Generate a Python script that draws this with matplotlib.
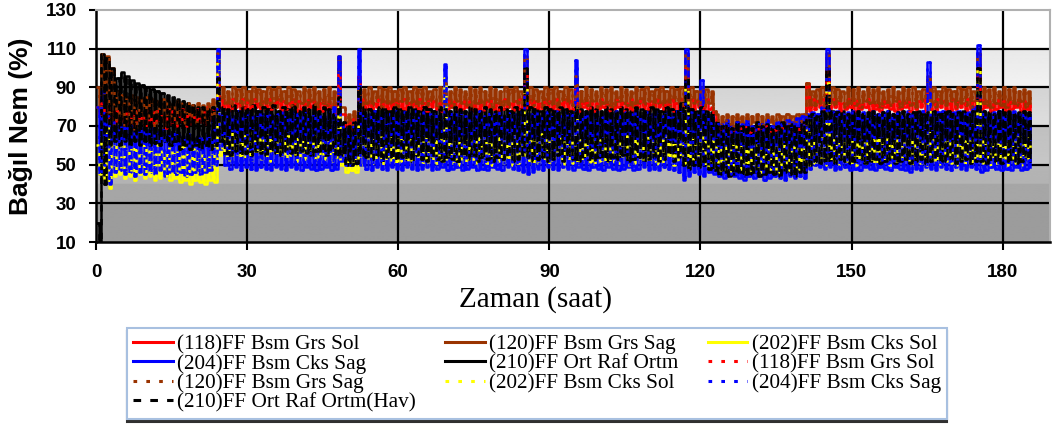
import numpy as np
import matplotlib
matplotlib.use("Agg")
import matplotlib.pyplot as plt

# hourly upper (hi) and lower (lo) readings of each sensor, hour 0..185
red_hi = [80, 82, 80, 78, 78, 76, 79, 77, 78, 76,
          79, 77, 78, 76, 79, 78, 77, 79, 78, 77,
          79, 78, 80, 79, 96, 84, 83, 84, 82, 84,
          83, 84, 82, 83, 84, 82, 84, 83, 82, 84,
          83, 82, 84, 83, 82, 84, 83, 82, 98, 76,
          72, 74, 96, 84, 83, 82, 84, 83, 82, 84,
          83, 84, 82, 83, 84, 82, 84, 83, 82, 88,
          84, 83, 82, 84, 83, 82, 84, 83, 84, 82,
          83, 84, 82, 83, 84, 98, 84, 83, 82, 84,
          83, 84, 82, 84, 83, 90, 82, 84, 83, 82,
          84, 83, 82, 84, 83, 82, 84, 83, 84, 82,
          83, 84, 82, 83, 84, 82, 84, 100, 84, 83,
          82, 84, 80, 70, 69, 70, 69, 70, 69, 70,
          69, 70, 69, 70, 69, 70, 69, 70, 69, 70,
          70, 92, 84, 83, 84, 100, 84, 83, 82, 84,
          83, 84, 82, 84, 83, 82, 84, 83, 82, 84,
          83, 84, 82, 83, 84, 90, 82, 84, 83, 82,
          84, 83, 82, 84, 83, 100, 84, 83, 82, 84,
          83, 84, 82, 84, 83, 82]
red_lo = [76, 75, 72, 70, 72, 70, 71, 69, 72, 70,
          71, 70, 72, 69, 71, 70, 72, 70, 71, 72,
          72, 71, 73, 72, 80, 79, 78, 80, 78, 79,
          78, 80, 79, 78, 79, 80, 78, 79, 80, 78,
          79, 78, 80, 79, 78, 79, 80, 76, 76, 70,
          68, 70, 78, 79, 78, 80, 79, 78, 79, 80,
          78, 79, 80, 78, 79, 78, 80, 79, 78, 79,
          80, 78, 79, 80, 78, 79, 78, 80, 79, 78,
          79, 80, 78, 79, 78, 79, 80, 78, 79, 80,
          78, 79, 80, 78, 79, 78, 80, 79, 78, 79,
          80, 78, 79, 80, 78, 79, 78, 80, 79, 78,
          79, 80, 78, 79, 78, 79, 80, 78, 79, 80,
          78, 79, 76, 67, 68, 67, 68, 67, 68, 67,
          68, 67, 68, 67, 68, 67, 68, 67, 68, 67,
          68, 78, 79, 80, 78, 79, 80, 78, 79, 80,
          78, 79, 80, 78, 79, 78, 80, 79, 78, 79,
          80, 78, 79, 80, 78, 79, 78, 80, 79, 78,
          79, 80, 78, 79, 78, 79, 80, 78, 79, 80,
          78, 79, 80, 78, 79, 78]

brown_hi = [90, 107, 106, 100, 88, 86, 85, 86, 85, 84,
            85, 84, 83, 84, 83, 82, 83, 82, 82, 81,
            82, 81, 82, 84, 108, 90, 88, 90, 89, 90,
            88, 90, 89, 88, 90, 89, 90, 88, 90, 89,
            88, 90, 89, 90, 88, 89, 90, 88, 106, 80,
            76, 78, 90, 89, 90, 88, 90, 89, 90, 88,
            89, 90, 88, 90, 89, 90, 88, 89, 90, 92,
            88, 90, 89, 88, 90, 89, 90, 88, 90, 89,
            88, 90, 89, 90, 88, 106, 90, 89, 88, 90,
            89, 90, 88, 90, 89, 96, 88, 90, 89, 88,
            90, 89, 90, 88, 90, 89, 88, 90, 89, 90,
            88, 89, 90, 88, 90, 89, 90, 108, 90, 88,
            90, 89, 88, 76, 75, 76, 75, 76, 75, 76,
            75, 76, 75, 76, 75, 76, 75, 76, 75, 76,
            76, 92, 88, 89, 90, 108, 90, 89, 88, 90,
            89, 90, 88, 90, 89, 90, 88, 89, 90, 88,
            90, 89, 90, 88, 89, 96, 90, 88, 90, 89,
            88, 90, 89, 90, 88, 108, 90, 89, 90, 88,
            90, 89, 90, 88, 89, 88]
brown_lo = [78, 80, 72, 70, 74, 70, 72, 68, 73, 70,
            74, 69, 72, 70, 75, 71, 73, 70, 74, 72,
            75, 72, 76, 74, 84, 82, 81, 83, 80, 82,
            81, 83, 80, 82, 81, 80, 83, 82, 81, 80,
            82, 81, 83, 80, 82, 81, 80, 78, 80, 72,
            70, 72, 80, 82, 81, 83, 80, 82, 81, 80,
            83, 82, 81, 80, 82, 81, 83, 80, 82, 81,
            80, 83, 82, 81, 80, 82, 81, 83, 80, 82,
            81, 80, 83, 82, 80, 82, 81, 83, 80, 82,
            81, 80, 83, 82, 81, 80, 82, 81, 83, 80,
            82, 81, 80, 83, 82, 81, 80, 82, 81, 83,
            80, 82, 81, 80, 83, 82, 81, 80, 82, 81,
            80, 82, 78, 70, 72, 71, 70, 72, 71, 70,
            72, 71, 70, 72, 71, 70, 72, 71, 70, 72,
            71, 80, 81, 82, 80, 82, 81, 83, 80, 82,
            81, 80, 83, 82, 81, 80, 82, 81, 83, 80,
            82, 81, 80, 83, 82, 81, 80, 82, 81, 83,
            80, 82, 81, 80, 83, 82, 81, 80, 82, 81,
            80, 82, 81, 83, 80, 82]

yellow_hi = [60, 62, 70, 62, 60, 61, 59, 60, 58, 60,
             59, 58, 60, 57, 59, 58, 57, 59, 56, 58,
             57, 56, 58, 60, 105, 66, 64, 67, 63, 65,
             67, 62, 65, 63, 66, 62, 64, 63, 65, 62,
             64, 63, 62, 65, 63, 62, 64, 63, 80, 55,
             54, 55, 70, 62, 64, 63, 65, 62, 64, 63,
             65, 62, 63, 64, 62, 65, 63, 62, 64, 95,
             63, 62, 65, 64, 63, 62, 64, 65, 63, 62,
             64, 63, 62, 65, 63, 90, 62, 64, 66, 63,
             65, 62, 64, 63, 65, 80, 63, 62, 65, 64,
             63, 65, 62, 64, 63, 65, 62, 64, 63, 65,
             62, 64, 63, 65, 62, 64, 63, 90, 64, 62,
             68, 63, 62, 60, 62, 59, 61, 60, 62, 59,
             61, 60, 58, 61, 59, 60, 62, 59, 60, 58,
             60, 72, 62, 63, 64, 92, 63, 65, 62, 64,
             63, 65, 62, 64, 63, 65, 62, 64, 63, 65,
             62, 64, 63, 65, 62, 82, 63, 65, 62, 64,
             63, 65, 62, 64, 63, 100, 64, 62, 65, 63,
             64, 62, 63, 65, 62, 64]
yellow_lo = [45, 42, 38, 44, 45, 43, 44, 42, 45, 43,
             44, 42, 43, 44, 42, 43, 41, 42, 40, 42,
             41, 40, 42, 41, 55, 54, 52, 55, 53, 54,
             52, 55, 53, 54, 52, 55, 54, 53, 55, 52,
             54, 53, 55, 52, 54, 53, 52, 54, 50, 46,
             47, 46, 50, 52, 51, 53, 50, 52, 51, 50,
             52, 51, 50, 53, 51, 50, 52, 51, 50, 52,
             51, 50, 52, 51, 53, 50, 52, 51, 50, 52,
             51, 52, 50, 51, 53, 52, 50, 51, 52, 50,
             51, 53, 50, 52, 51, 50, 52, 51, 50, 52,
             51, 50, 52, 51, 53, 50, 51, 52, 50, 51,
             52, 50, 51, 53, 50, 52, 51, 50, 52, 51,
             50, 49, 48, 47, 48, 46, 47, 48, 46, 47,
             48, 46, 47, 48, 47, 46, 48, 47, 46, 48,
             48, 50, 51, 52, 50, 52, 51, 50, 52, 51,
             50, 52, 51, 53, 50, 52, 51, 50, 52, 51,
             53, 50, 52, 51, 50, 52, 51, 50, 52, 51,
             50, 52, 51, 50, 52, 51, 53, 50, 51, 52,
             50, 52, 51, 50, 52, 55]

blue_hi = [80, 88, 75, 72, 70, 71, 69, 70, 68, 69,
           68, 69, 67, 68, 66, 67, 66, 65, 66, 64,
           65, 64, 66, 75, 110, 76, 77, 75, 78, 76,
           77, 75, 78, 76, 77, 75, 76, 78, 75, 77,
           76, 78, 75, 77, 76, 75, 78, 80, 106, 70,
           68, 72, 110, 77, 76, 78, 75, 77, 76, 78,
           75, 77, 76, 78, 75, 77, 76, 78, 75, 102,
           77, 76, 78, 75, 77, 76, 78, 75, 77, 76,
           78, 75, 77, 76, 78, 110, 76, 78, 75, 77,
           76, 78, 75, 77, 76, 104, 75, 77, 76, 78,
           75, 77, 76, 78, 75, 77, 76, 78, 75, 77,
           76, 78, 75, 77, 76, 78, 80, 110, 77, 76,
           94, 76, 75, 72, 71, 73, 70, 72, 71, 73,
           70, 72, 71, 73, 70, 72, 71, 73, 72, 74,
           75, 76, 77, 76, 80, 110, 77, 78, 76, 77,
           78, 76, 77, 75, 78, 76, 77, 78, 76, 77,
           75, 78, 76, 77, 78, 103, 76, 77, 78, 76,
           77, 78, 76, 77, 80, 112, 78, 76, 77, 78,
           76, 77, 78, 76, 77, 76]
blue_lo = [45, 50, 40, 46, 47, 45, 46, 44, 46, 45,
           46, 45, 47, 44, 46, 45, 46, 44, 45, 46,
           45, 46, 47, 50, 58, 50, 48, 49, 47, 49,
           48, 47, 49, 48, 47, 49, 48, 47, 49, 48,
           47, 49, 48, 47, 48, 49, 47, 48, 52, 50,
           50, 51, 50, 48, 47, 49, 48, 47, 49, 48,
           47, 49, 48, 47, 48, 49, 47, 48, 49, 47,
           48, 49, 47, 48, 49, 47, 48, 47, 49, 48,
           47, 49, 48, 47, 46, 45, 46, 48, 47, 49,
           48, 47, 49, 48, 47, 49, 48, 47, 49, 48,
           47, 49, 48, 47, 48, 49, 47, 48, 49, 47,
           48, 47, 49, 48, 47, 46, 42, 44, 46, 45,
           44, 46, 45, 44, 43, 45, 44, 43, 42, 44,
           43, 44, 42, 43, 44, 43, 42, 44, 43, 44,
           43, 48, 50, 49, 48, 49, 47, 48, 49, 47,
           48, 47, 49, 48, 47, 49, 48, 47, 49, 48,
           47, 46, 48, 47, 49, 48, 47, 49, 48, 47,
           49, 48, 47, 49, 48, 46, 47, 49, 48, 47,
           48, 47, 49, 47, 48, 49]

black_hi = [20, 107, 105, 100, 95, 98, 96, 94, 92, 91,
            90, 89, 88, 87, 86, 85, 84, 83, 82, 81,
            80, 80, 79, 80, 95, 80, 79, 81, 78, 80,
            79, 81, 78, 80, 79, 81, 78, 80, 79, 81,
            78, 80, 79, 81, 78, 80, 79, 76, 85, 72,
            70, 72, 90, 80, 79, 78, 80, 79, 78, 80,
            79, 78, 80, 79, 78, 80, 79, 78, 80, 79,
            78, 80, 79, 78, 80, 79, 78, 80, 79, 78,
            80, 79, 78, 80, 79, 100, 80, 79, 78, 80,
            79, 78, 80, 79, 78, 80, 79, 78, 80, 79,
            78, 80, 79, 78, 80, 79, 78, 80, 79, 78,
            80, 79, 78, 80, 79, 78, 82, 95, 79, 78,
            80, 78, 77, 72, 70, 71, 69, 72, 70, 71,
            69, 72, 70, 71, 69, 70, 72, 70, 71, 69,
            72, 75, 76, 75, 78, 100, 78, 77, 78, 76,
            77, 78, 76, 77, 78, 76, 77, 78, 76, 77,
            78, 76, 77, 78, 76, 77, 78, 76, 77, 78,
            76, 77, 78, 76, 78, 100, 78, 77, 76, 78,
            77, 78, 76, 77, 78, 77]
black_lo = [10, 40, 60, 62, 60, 62, 60, 62, 60, 62,
            60, 61, 60, 62, 60, 62, 58, 60, 58, 60,
            58, 60, 58, 60, 62, 56, 55, 57, 55, 56,
            55, 57, 56, 55, 57, 56, 55, 57, 56, 55,
            57, 56, 55, 57, 56, 55, 57, 54, 55, 50,
            50, 51, 55, 54, 53, 55, 52, 54, 53, 52,
            54, 53, 52, 55, 53, 52, 54, 53, 52, 54,
            53, 52, 54, 53, 55, 52, 54, 53, 52, 54,
            53, 54, 52, 53, 55, 54, 52, 53, 54, 52,
            53, 55, 52, 54, 53, 52, 54, 53, 52, 54,
            53, 52, 54, 53, 55, 52, 53, 54, 52, 53,
            54, 52, 53, 55, 52, 54, 50, 48, 50, 49,
            50, 48, 47, 45, 46, 44, 45, 46, 44, 45,
            46, 44, 45, 46, 45, 44, 46, 45, 44, 46,
            46, 50, 52, 51, 52, 52, 51, 53, 52, 51,
            52, 53, 51, 52, 53, 51, 52, 53, 51, 52,
            53, 51, 52, 53, 51, 52, 53, 51, 52, 53,
            51, 52, 53, 51, 52, 52, 51, 53, 52, 51,
            52, 53, 51, 52, 53, 52]

names = ["(118)FF Bsm Grs Sol", "(120)FF Bsm Grs Sag", "(202)FF Bsm Cks Sol",
         "(204)FF Bsm Cks Sag", "(210)FF Ort Raf Ortm"]
colors = ["#ff0000", "#993300", "#ffff00", "#0000ff", "#000000"]
series = [(red_hi, red_lo), (brown_hi, brown_lo), (yellow_hi, yellow_lo),
          (blue_hi, blue_lo), (black_hi, black_lo)]

y_ticks = [10, 30, 50, 70, 90, 110, 130]
x_ticks = [0, 30, 60, 90, 120, 150, 180]


def zigzag(hi, lo):
    t = np.arange(len(hi), dtype=float)
    x = np.empty(2 * len(hi))
    y = np.empty(2 * len(hi))
    x[0::2], x[1::2] = t, t + 0.5
    y[0::2], y[1::2] = hi, lo
    return x, y


fig = plt.figure(figsize=(10.54, 4.25), dpi=100)
ax = fig.add_axes([96 / 1054, 1 - 242 / 425, 954 / 1054, 232 / 425])
ax.set_xlim(0, 189.4)
ax.set_ylim(10, 130)

# banded grey background like the Excel plot area
yy = np.linspace(10, 130, 600)
band_y = [10, 30, 30.01, 40, 40.01, 50, 50.01, 70, 70.01, 90, 90.01, 110, 110.01, 130]
band_g = [0.61, 0.61, 0.65, 0.65, 0.70, 0.71, 0.78, 0.75, 0.87, 0.83, 0.95, 0.91, 1.0, 1.0]
g = np.interp(yy, band_y, band_g)
ax.imshow(np.repeat(g[::-1, None], 2, axis=1), cmap="gray", vmin=0, vmax=1,
          extent=[0, 189.4, 10, 130], aspect="auto", zorder=0)

for v in y_ticks[1:-1]:
    ax.axhline(v, color="black", lw=1.6, zorder=1)
for v in x_ticks[1:]:
    ax.axvline(v, color="black", lw=1.6, zorder=1)

handles = []
for (hi, lo), c, n in zip(series, colors, names):
    x, y = zigzag(hi, lo)
    h, = ax.plot(x, y, drawstyle="steps-post", color=c, lw=1.8, zorder=2, label=n)
    handles.append(h)
for i, ((hi, lo), c, n) in enumerate(zip(series, colors, names)):
    x, y = zigzag(hi, lo)
    ls = (0, (2.5, 3)) if i == 4 else (0, (1.2, 3))
    lab = n + "(Hav)" if i == 4 else n
    h, = ax.plot(x, y, drawstyle="steps-post", color=c, lw=1.8, ls=ls, zorder=3, label=lab)
    handles.append(h)

ax.set_xticks(x_ticks)
ax.set_yticks(y_ticks)
tick_font = dict(family=["Liberation Sans Narrow", "Liberation Sans", "DejaVu Sans"],
                 weight="bold", size=13.5)
ax.set_xticklabels([str(v) for v in x_ticks], **tick_font)
ax.set_yticklabels([str(v) for v in y_ticks], **tick_font)
ax.tick_params(axis="x", length=6, width=1.5, pad=10)
ax.tick_params(axis="y", length=5, width=1.5, pad=9)

for s in ["left", "bottom"]:
    ax.spines[s].set_color("black")
    ax.spines[s].set_linewidth(1.8)
for s in ["top", "right"]:
    ax.spines[s].set_color("#b0b0b0")
    ax.spines[s].set_linewidth(1.5)

ax.set_ylabel("Bağıl Nem (%)", fontsize=19, fontweight="bold",
              family=["Liberation Sans Narrow", "Liberation Sans", "DejaVu Sans"])
ax.yaxis.set_label_coords(-0.066, 0.5)
ax.set_xlabel("Zaman (saat)", fontsize=21, family=["Liberation Serif", "DejaVu Serif"])
ax.xaxis.set_label_coords(0.461, -0.19)

# Excel order is row-wise; matplotlib fills legend columns first
order = [0, 3, 6, 9, 1, 4, 7, 2, 5, 8]
leg = fig.legend([handles[i] for i in order], [handles[i].get_label() for i in order],
                 loc="upper left", bbox_to_anchor=(127 / 1054, 1 - 328 / 425),
                 ncol=3, fancybox=False, framealpha=1, edgecolor="#a8c0e0",
                 shadow={"ox": 0, "oy": -2.2, "color": "#303030", "alpha": 1},
                 prop={"family": ["Liberation Serif", "DejaVu Serif"], "size": 15.3},
                 handlelength=1.85, handletextpad=0.2, columnspacing=1.4,
                 labelspacing=-0.02, borderpad=0.3, borderaxespad=0)
leg.get_frame().set_linewidth(1.5)
for l in leg.get_lines():
    l.set_linewidth(2.2)

fig.savefig("out.png", dpi=100)
